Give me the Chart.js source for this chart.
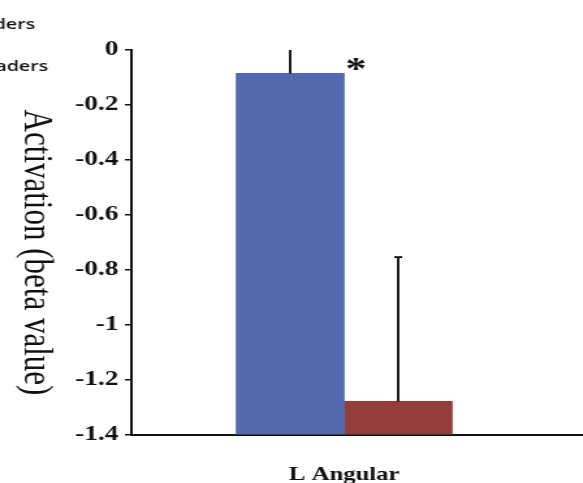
<!DOCTYPE html>
<html>
<head>
<meta charset="utf-8">
<script src="https://cdn.jsdelivr.net/npm/chart.js@4.4.1/dist/chart.umd.min.js"></script>
<style>
  html, body { margin: 0; padding: 0; background: #fff; overflow: hidden; }
  /* the source figure is stretched sideways, so draw narrow and stretch */
  #wrap { width: 448px; height: 483px; transform: scaleX(1.3013); transform-origin: 0 0; }
</style>
</head>
<body>
<div id="wrap"><canvas id="chart"></canvas></div>
<script>
/* ── data ── */
const CATEGORIES = ['L Angular'];
const GROUPS     = ['Good readers', 'Poor readers'];
const GOOD       = [-0.085];
const POOR       = [-1.278];
const GOOD_ERR   = [0.09];
const POOR_ERR   = [0.525];
const Y_TICKS    = [0, -0.2, -0.4, -0.6, -0.8, -1, -1.2, -1.4];
const SIG_MARK   = '*';

const BLUE  = '#5468ae';
const RED   = '#943e3b';
const INK   = '#111';
const SERIF = '"Liberation Serif", serif';

Chart.defaults.font.family = SERIF;

const toPoints = arr => arr.map((v, i) => ({ x: i + 0.5, y: v }));

/* ── error bars (plus side only) ── */
const errorBars = {
  id: 'errorBars',
  afterDatasetsDraw(chart) {
    const { ctx, chartArea: a, scales: { y } } = chart;
    ctx.save();
    ctx.beginPath();
    ctx.rect(a.left, a.top, a.width, a.height);
    ctx.clip();
    ctx.strokeStyle = '#000';
    ctx.lineWidth = 1.8;
    chart.data.datasets.forEach((ds, di) => {
      chart.getDatasetMeta(di).data.forEach((bar, i) => {
        const top = y.getPixelForValue(ds.data[i].y + ds.errUp[i]);
        ctx.beginPath();
        ctx.moveTo(bar.x, bar.y);
        ctx.lineTo(bar.x, top);
        ctx.moveTo(bar.x - 3, top);
        ctx.lineTo(bar.x + 3, top);
        ctx.stroke();
      });
    });
    ctx.restore();
  }
};

/* ── texts: y title, cut-off legend, significance mark ── */
const extras = {
  id: 'extras',
  afterDraw(chart) {
    const { ctx, chartArea: a } = chart;
    ctx.save();
    ctx.fillStyle = INK;

    // y title, reads top to bottom
    ctx.save();
    ctx.translate(27, (a.top + a.bottom) / 2 + 10);
    ctx.rotate(Math.PI / 2);
    ctx.font = '31px ' + SERIF;
    ctx.textAlign = 'center';
    ctx.textBaseline = 'middle';
    ctx.fillText('Activation (beta value)', 0, 0);
    ctx.restore();

    // legend, mostly outside the picture on the left
    ctx.font = '600 15px "Open Sans", sans-serif';
    ctx.textAlign = 'right';
    ctx.textBaseline = 'middle';
    ctx.fillText(chart.data.datasets[0].label, 27, 25);
    ctx.fillText(chart.data.datasets[1].label, 37, 67);

    // significance star next to the good readers bar
    const bar = chart.getDatasetMeta(0).data[0];
    ctx.font = 'bold 32px ' + SERIF;
    ctx.textAlign = 'center';
    ctx.textBaseline = 'alphabetic';
    ctx.fillText(SIG_MARK, bar.x + bar.width / 2 + 9, 79);
    ctx.restore();
  }
};

new Chart(document.getElementById('chart'), {
  type: 'bar',
  data: {
    datasets: [
      { label: GROUPS[0], data: toPoints(GOOD), errUp: GOOD_ERR, backgroundColor: BLUE, base: -1.4 },
      { label: GROUPS[1], data: toPoints(POOR), errUp: POOR_ERR, backgroundColor: RED,  base: -1.4 },
    ]
  },
  options: {
    responsive: true,
    maintainAspectRatio: false,
    animation: false,
    barThickness: 83,
    layout: { padding: { top: 50, left: 0, right: 0, bottom: 0 } },
    plugins: { legend: { display: false }, tooltip: { enabled: false } },
    scales: {
      x: {
        type: 'linear',
        min: 0,
        max: 1.1305,
        afterBuildTicks: s => { s.ticks = CATEGORIES.map((c, i) => ({ value: i + 0.5 })); },
        afterFit: s => { s.height = 48; },
        grid: { display: false, drawTicks: false },
        border: { display: true, color: INK, width: 2 },
        ticks: {
          padding: 29,
          color: INK,
          font: { family: SERIF, size: 19, weight: 'bold' },
          callback: v => CATEGORIES[Math.round(v - 0.5)] || '',
        },
      },
      y: {
        min: -1.4,
        max: 0,
        afterBuildTicks: s => { s.ticks = Y_TICKS.map(v => ({ value: v })); },
        afterFit: s => { s.width = 101; },
        grid: { display: true, drawOnChartArea: false, drawTicks: true, tickLength: 5, color: INK, lineWidth: 1.5 },
        border: { display: true, color: INK, width: 2 },
        ticks: {
          padding: 5,
          color: INK,
          font: { family: SERIF, size: 21, weight: 'bold' },
          callback: v => String(v),
        },
      }
    }
  },
  plugins: [errorBars, extras]
});
</script>
</body>
</html>
